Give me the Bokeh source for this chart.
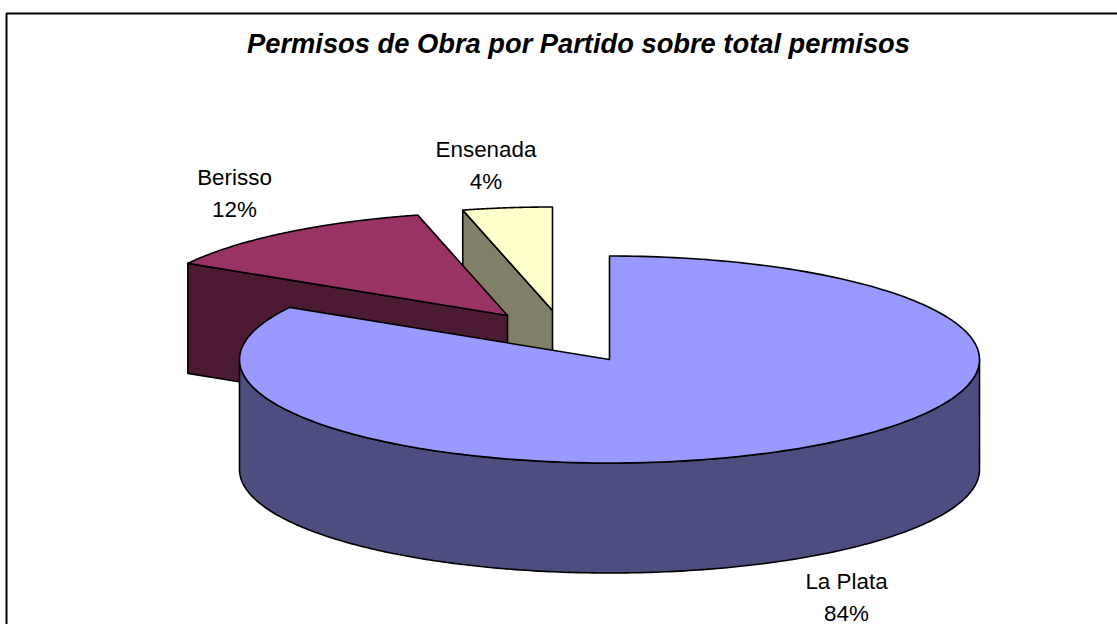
import numpy as np
from bokeh.core.properties import value
from bokeh.embed import file_html
from bokeh.models import Range1d
from bokeh.plotting import figure
from bokeh.resources import INLINE

# ---- data ----
partidos = ["La Plata", "Berisso", "Ensenada"]
shares = [83.4, 12.7, 3.9]
percent_labels = ["84%", "12%", "4%"]
title_text = "Permisos de Obra por Partido sobre total permisos"

# ---- styles / layout ----
top_colors = ["#9999FF", "#993366", "#FFFFCC"]
side_colors = ["#4D4D80", "#4D1A33", "#808066"]
centers = [(609, 359), (507, 315), (552, 310)]
RX, RY, DEPTH = 370, 103.5, 110
label_xy = [(846, 581), (234, 177), (485.5, 149)]
TITLE_XY = (578, 43)
LINE_GAP = 32
W, H = 1117, 624

p = figure(width=W, height=H, x_range=Range1d(0, W), y_range=Range1d(H, 0),
           output_backend="svg", toolbar_location=None, min_border=0,
           margin=(0, 0, 0, 0), outline_line_color=None,
           background_fill_color="white", border_fill_color="white")
p.axis.visible = False
p.grid.visible = False

p.line([6, 6, W], [H, 13, 13], line_color="black", line_width=2)


def arc(center, a0, a1):
    t = np.radians(np.linspace(a0, a1, 240))
    return center[0] + RX * np.sin(t), center[1] - RY * np.cos(t)


edges = np.cumsum([0] + shares) / sum(shares) * 360
OUT = dict(line_color="black", line_width=1.6, line_join="round")

# Ensenada and Berisso sit behind La Plata: draw the back slices first
for i in (2, 1):
    c = centers[i]
    a0, a1 = edges[i], edges[i + 1]
    ax, ay = arc(c, a0, a1)
    # cut face seen from the front, below the leading radial edge
    sx = [ax[0], c[0], c[0], ax[0]]
    sy = [ay[0], c[1], c[1] + DEPTH, ay[0] + DEPTH]
    p.patch(sx, sy, fill_color=side_colors[i], **OUT)
    p.patch(np.r_[c[0], ax], np.r_[c[1], ay], fill_color=top_colors[i], **OUT)

# La Plata: rim then top
c = centers[0]
rx_, ry_ = arc(c, 90, 270)
p.patch(np.r_[rx_, rx_[::-1]], np.r_[ry_, ry_[::-1] + DEPTH],
        fill_color=side_colors[0], **OUT)
ax, ay = arc(c, edges[0], edges[1])
p.patch(np.r_[c[0], ax], np.r_[c[1], ay], fill_color=top_colors[0], **OUT)

p.text([TITLE_XY[0]], [TITLE_XY[1]], text=[title_text], text_font=value("Liberation Sans"),
       text_font_size="27.3px", text_font_style="bold italic", text_color="black",
       text_align="center", text_baseline="alphabetic")

for name, pct, (x, y) in zip(partidos, percent_labels, label_xy):
    p.text([x, x], [y, y + LINE_GAP], text=[name, pct],
           text_font=value("Liberation Sans"), text_font_size="22.4px",
           text_color="black", text_align="center", text_baseline="alphabetic")

open("out.html", "w").write(file_html(p, INLINE))
